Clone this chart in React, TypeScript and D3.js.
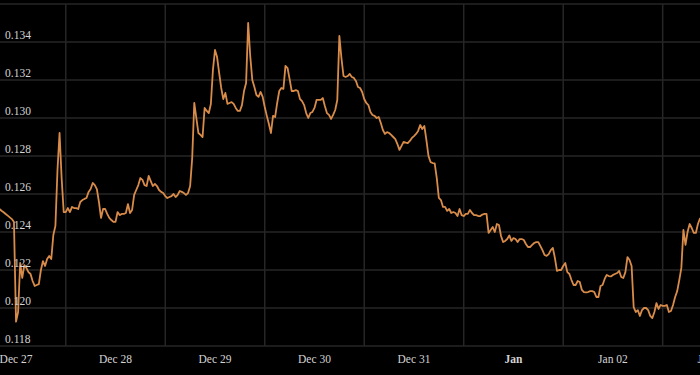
import React from 'react';
import * as d3 from 'd3';

// half-hourly closes, starting Dec 26 20:00
const startTime = new Date(2024, 11, 26, 20, 0);
const stepMinutes = 30;

const prices = [
  0.12521, 0.12512, 0.12504, 0.12495, 0.12486, 0.12477, 0.12468, 0.12453, 0.11928, 0.11979,
  0.12237, 0.12158, 0.12226, 0.12211, 0.12189, 0.12179, 0.12142, 0.12116, 0.12121, 0.12126,
  0.12200, 0.12247, 0.12221, 0.12258, 0.12274, 0.12258, 0.12384, 0.12432, 0.12726, 0.12921,
  0.12684, 0.12505, 0.12505, 0.12526, 0.12505, 0.12532, 0.12526, 0.12526, 0.12521, 0.12558,
  0.12568, 0.12574, 0.12579, 0.12611, 0.12626, 0.12658, 0.12647, 0.12626, 0.12558, 0.12474,
  0.12521, 0.12521, 0.12495, 0.12474, 0.12463, 0.12453, 0.12453, 0.12505, 0.12489, 0.12495,
  0.12495, 0.12500, 0.12547, 0.12500, 0.12516, 0.12595, 0.12621, 0.12647, 0.12684, 0.12674,
  0.12647, 0.12642, 0.12695, 0.12668, 0.12642, 0.12653, 0.12642, 0.12621, 0.12611, 0.12605,
  0.12589, 0.12579, 0.12584, 0.12589, 0.12600, 0.12584, 0.12595, 0.12616, 0.12611, 0.12605,
  0.12595, 0.12605, 0.12642, 0.12789, 0.13079, 0.13000, 0.12921, 0.12911, 0.12900, 0.13053,
  0.13037, 0.13026, 0.13074, 0.13253, 0.13358, 0.13321, 0.13237, 0.13158, 0.13100, 0.13132,
  0.13074, 0.13079, 0.13084, 0.13074, 0.13053, 0.13037, 0.13037, 0.13068, 0.13142, 0.13184,
  0.13500, 0.13326, 0.13200, 0.13163, 0.13121, 0.13111, 0.13137, 0.13111, 0.13058, 0.13011,
  0.12968, 0.12921, 0.13011, 0.13005, 0.13079, 0.13142, 0.13158, 0.13153, 0.13274, 0.13263,
  0.13205, 0.13142, 0.13142, 0.13147, 0.13142, 0.13100, 0.13089, 0.13068, 0.13026, 0.13000,
  0.13026, 0.13032, 0.13053, 0.13095, 0.13095, 0.13095, 0.13105, 0.13063, 0.13026, 0.13016,
  0.12995, 0.13016, 0.13042, 0.13095, 0.13432, 0.13316, 0.13221, 0.13216, 0.13221, 0.13232,
  0.13216, 0.13211, 0.13195, 0.13163, 0.13158, 0.13137, 0.13100, 0.13079, 0.13068, 0.13032,
  0.13016, 0.13011, 0.13000, 0.13005, 0.12974, 0.12937, 0.12916, 0.12926, 0.12921, 0.12911,
  0.12900, 0.12889, 0.12863, 0.12832, 0.12853, 0.12874, 0.12870, 0.12868, 0.12879, 0.12895,
  0.12905, 0.12916, 0.12932, 0.12963, 0.12942, 0.12958, 0.12884, 0.12800, 0.12768, 0.12763,
  0.12761, 0.12684, 0.12579, 0.12568, 0.12532, 0.12532, 0.12511, 0.12521, 0.12500, 0.12505,
  0.12500, 0.12484, 0.12521, 0.12489, 0.12484, 0.12495, 0.12495, 0.12516, 0.12500, 0.12489,
  0.12489, 0.12484, 0.12484, 0.12492, 0.12495, 0.12495, 0.12395, 0.12411, 0.12426, 0.12400,
  0.12442, 0.12437, 0.12379, 0.12347, 0.12353, 0.12363, 0.12382, 0.12353, 0.12368, 0.12363,
  0.12347, 0.12363, 0.12363, 0.12358, 0.12337, 0.12321, 0.12321, 0.12332, 0.12342, 0.12347,
  0.12347, 0.12326, 0.12305, 0.12279, 0.12274, 0.12284, 0.12305, 0.12316, 0.12263, 0.12195,
  0.12200, 0.12200, 0.12221, 0.12237, 0.12189, 0.12179, 0.12147, 0.12121, 0.12121, 0.12142,
  0.12137, 0.12095, 0.12084, 0.12082, 0.12084, 0.12089, 0.12089, 0.12084, 0.12058, 0.12058,
  0.12116, 0.12121, 0.12153, 0.12174, 0.12168, 0.12166, 0.12174, 0.12179, 0.12184, 0.12195,
  0.12163, 0.12158, 0.12189, 0.12268, 0.12253, 0.12221, 0.12005, 0.11979, 0.11989, 0.11958,
  0.11989, 0.12000, 0.12000, 0.11989, 0.11958, 0.11947, 0.11979, 0.12026, 0.11995, 0.12016,
  0.12011, 0.12011, 0.12016, 0.11979, 0.11984, 0.12016, 0.12058, 0.12089, 0.12147, 0.12211,
  0.12411, 0.12332, 0.12400, 0.12442, 0.12421, 0.12395, 0.12395, 0.12442, 0.12471, 0.12474,
];

const yTicks = [0.118, 0.120, 0.122, 0.124, 0.126, 0.128, 0.130, 0.132, 0.134, 0.136];

const width = 700;
const height = 375;

const App = () => {
  const data = prices.map((p, i) => ({
    date: d3.timeMinute.offset(startTime, i * stepMinutes),
    price: p,
  }));

  // visible window: Dec 26 ~20:08 to Jan 2 ~21:00
  const x = d3.scaleTime()
    .domain([new Date(2024, 11, 26, 20, 8), new Date(2025, 0, 2, 21, 0)])
    .range([0, width]);

  const y = d3.scaleLinear()
    .domain([0.118, 0.136])
    .range([346, 4]);

  const line = d3.line<{ date: Date; price: number }>()
    .x(d => x(d.date))
    .y(d => y(d.price));

  const days = d3.timeDay.range(new Date(2024, 11, 27), new Date(2025, 0, 4));
  const noons = days.map(d => d3.timeHour.offset(d, 12));
  const fmtMonth = d3.timeFormat('%b');
  const fmtDay = d3.timeFormat('%b %d');

  const font = '"Liberation Serif", "Times New Roman", serif';

  return (
    <div style={{ position: 'absolute', left: 0, top: 0 }}>
      <svg width={width} height={height} style={{ display: 'block', background: '#000' }}>
        <defs>
          <clipPath id="plot">
            <rect x={0} y={0} width={width} height={350} />
          </clipPath>
        </defs>
        <rect width={width} height={height} fill="#000" />
        {/* grid */}
        <g stroke="#262626" strokeWidth={1.5}>
          {yTicks.map(t => (
            <line key={t} x1={0} x2={width} y1={y(t)} y2={y(t)} />
          ))}
          {noons.map(d => (
            <line key={+d} x1={x(d)} x2={x(d)} y1={y(0.136)} y2={y(0.118)} />
          ))}
        </g>
        {/* price line */}
        <path
          d={line(data) || ''}
          fill="none"
          stroke="#d98c4a"
          strokeWidth={1.8}
          strokeLinejoin="round"
          clipPath="url(#plot)"
        />
        {/* y labels */}
        <g fill="#d4d4d4" fontFamily={font} fontSize={11.5}>
          {yTicks.slice(0, -1).map(t => (
            <text key={t} x={5} y={y(t) - 3}>{t.toFixed(3)}</text>
          ))}
        </g>
        {/* x labels */}
        <g fill="#d4d4d4" fontFamily={font} fontSize={11.5} textAnchor="middle">
          {days.map(d => {
            const isMonth = d.getDate() === 1;
            return (
              <text key={+d} x={x(d)} y={363} fontWeight={isMonth ? 'bold' : 'normal'}>
                {isMonth ? fmtMonth(d) : fmtDay(d)}
              </text>
            );
          })}
        </g>
      </svg>
    </div>
  );
};

export default App;
